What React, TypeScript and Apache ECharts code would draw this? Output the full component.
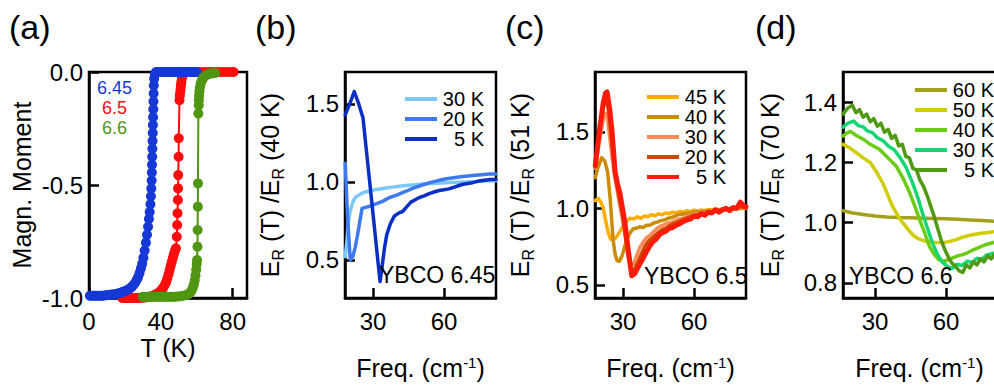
import React, { useEffect, useRef } from "react";
import * as echarts from "echarts";

const FONT = "'Liberation Sans', Arial, Helvetica, sans-serif";

// ---------- Panel (a): magnetization vs T ----------
const a645: number[][] = [
  [0.5, -0.99], [1.5, -0.99], [2.5, -0.99], [3.5, -0.99], [4.5, -0.99], [5.5, -0.99], [6.5, -0.99], [7.5, -0.99],
  [8.5, -0.989], [9.5, -0.988], [10.5, -0.987], [11.5, -0.986], [12.5, -0.985], [13.5, -0.984], [14.5, -0.983],
  [15.5, -0.981], [16.5, -0.979], [17.5, -0.977], [18.5, -0.974], [19.5, -0.971], [20.5, -0.968], [21.5, -0.964],
  [22.5, -0.959], [23.5, -0.953], [24.5, -0.945], [25.5, -0.935], [26.5, -0.922], [27.3, -0.908], [28.1, -0.89],
  [28.9, -0.87], [29.6, -0.848], [30.3, -0.822], [31, -0.79], [31.7, -0.755], [32.3, -0.72], [32.9, -0.685],
  [33.4, -0.65], [33.8, -0.62], [34.2, -0.585], [34.5, -0.55], [34.7, -0.515], [34.9, -0.48], [35.0, -0.445],
  [35.1, -0.41], [35.2, -0.375], [35.3, -0.34], [35.4, -0.305], [35.5, -0.27], [35.6, -0.235], [35.7, -0.2],
  [35.8, -0.165], [35.9, -0.13], [36.0, -0.095], [36.1, -0.06], [36.3, -0.03], [36.7, -0.01], [37.3, 0], [38, 0],
  [39, 0], [40, 0], [41, 0], [42, 0], [43, 0], [44, 0], [45, 0], [46, 0], [47, 0], [48, 0], [49, 0], [50, 0],
  [51, 0], [52, 0], [53, 0], [54, 0], [55, 0], [56, 0], [57, 0], [58, 0], [59, 0], [60, 0],
];
const a65: number[][] = [
  [18.5, -1], [19.5, -1], [20.5, -1], [21.5, -1], [22.5, -1], [23.5, -1], [24.5, -1], [25.5, -1], [26.5, -1],
  [27.5, -1], [28.5, -0.999], [29.5, -0.999], [30.5, -0.998], [31.5, -0.997], [32.5, -0.996], [33.5, -0.995],
  [34.5, -0.993], [35.5, -0.99], [36.5, -0.987], [37.5, -0.983], [38.5, -0.978], [39.5, -0.972], [40.5, -0.964],
  [41.3, -0.955], [42.1, -0.944], [42.9, -0.93], [43.6, -0.914], [44.3, -0.895], [44.9, -0.876], [45.5, -0.857],
  [46.1, -0.84], [46.7, -0.822], [47.3, -0.805], [47.9, -0.79], [48.4, -0.78], [48.9, -0.729], [49.1, -0.677],
  [49.3, -0.625], [49.5, -0.566], [49.6, -0.515], [49.7, -0.456], [49.9, -0.375], [50, -0.293], [50.4, -0.125],
  [50.6, -0.105], [50.8, -0.09], [51, -0.075], [51.2, -0.06], [51.4, -0.045], [51.7, -0.03], [52.1, -0.018],
  [52.7, -0.008], [53.5, -0.002], [55, 0], [57, 0], [59, 0], [61, 0], [63, 0], [65, 0], [67, 0], [69, 0], [71, 0],
  [73, 0], [75, 0], [77, 0], [79, 0], [80.5, 0],
];
const a66: number[][] = [
  [30, -0.995], [31.5, -0.995], [33, -0.995], [34.5, -0.995], [36, -0.995], [37.5, -0.995], [39, -0.995],
  [40.5, -0.995], [42, -0.995], [43.5, -0.995], [45, -0.995], [46.5, -0.995], [48, -0.994], [49.5, -0.993],
  [51, -0.992], [52.5, -0.99], [54, -0.987], [55.3, -0.983], [56.3, -0.977], [57.1, -0.968], [57.8, -0.955],
  [58.4, -0.94], [58.9, -0.922], [59.3, -0.9], [59.7, -0.875], [60, -0.85], [60.2, -0.832], [60.4, -0.773],
  [60.5, -0.699], [60.6, -0.596], [60.7, -0.493], [60.9, -0.184], [61.1, -0.147], [61.2, -0.125], [61.3, -0.105],
  [61.5, -0.085], [61.8, -0.068], [62.2, -0.052], [62.7, -0.04], [63.3, -0.03], [64, -0.022], [65, -0.015],
  [66.2, -0.01], [67.5, -0.007], [69, -0.005], [70.3, -0.004],
];

// ---------- Panel (b): YBCO 6.45 ----------
const b30: number[][] = [
  [18.3, 0.52], [19, 0.62], [19.6, 0.74], [20.5, 0.82], [21.5, 0.87], [22.5, 0.9], [24, 0.915], [25.8, 0.93],
  [28, 0.94], [30, 0.948], [33, 0.955], [36, 0.962], [39, 0.968], [42, 0.974], [45, 0.978], [48, 0.982],
  [51, 0.986], [54, 0.99], [57, 0.992], [60, 0.994], [63, 0.996], [66, 0.998], [69, 1.0], [72, 1.002],
  [75, 1.004], [78, 1.006], [81.9, 1.008],
];
const b20: number[][] = [
  [18.3, 1.12], [19.2, 0.8], [20.4, 0.5], [21.5, 0.52], [22.5, 0.58], [23.5, 0.66], [24.5, 0.75], [25.4, 0.83],
  [26.5, 0.835], [27.9, 0.84], [29.5, 0.85], [31.6, 0.86], [34, 0.875], [37, 0.9], [40, 0.915], [44, 0.94],
  [47, 0.96], [50.8, 0.98], [54, 0.995], [57.9, 1.01], [61, 1.02], [64, 1.027], [67, 1.033], [70, 1.038],
  [73, 1.042], [76, 1.046], [79, 1.05], [81.9, 1.05],
];
const b5: number[][] = [
  [18.3, 1.43], [20.2, 1.5], [22.1, 1.58], [24, 1.5], [25.8, 1.41], [27.5, 1.16], [29.3, 0.9], [31, 0.65],
  [32.3, 0.46], [33, 0.36], [33.8, 0.45], [34.8, 0.57], [35.8, 0.66], [37.3, 0.73], [39, 0.78], [40.8, 0.8],
  [42.5, 0.81], [44.2, 0.84], [46, 0.87], [47.8, 0.885], [49.6, 0.9], [51.6, 0.91], [53.7, 0.925], [55.8, 0.935],
  [57.9, 0.945], [60, 0.95], [62, 0.955], [64, 0.965], [66, 0.975], [68, 0.985], [70, 0.99], [72, 0.995],
  [74.6, 1.005], [77, 1.01], [79.5, 1.015], [81.9, 1.015],
];

// ---------- Panel (c): YBCO 6.5 ----------
const c45: number[][] = [
  [18.3, 1.05], [19.6, 1.065], [20.7, 1.04], [21.7, 1.0], [22.7, 0.92], [23.8, 0.84], [24.8, 0.8], [25.8, 0.795],
  [26.8, 0.805], [28, 0.83], [30, 0.885], [31.5, 0.915], [32.9, 0.935], [34.5, 0.93], [36, 0.945], [37.5, 0.935],
  [39, 0.95], [40.5, 0.945], [42, 0.958], [43.5, 0.952], [45, 0.965], [46.5, 0.958], [48, 0.97], [49.5, 0.965],
  [51, 0.975], [52.5, 0.97], [54, 0.98], [55.5, 0.975], [57, 0.985], [58.5, 0.978], [60, 0.988], [61.5, 0.982],
  [63, 0.99], [64.5, 0.985], [66, 0.993], [67.5, 0.988], [69, 0.996], [70.5, 0.99], [72, 0.998], [73.5, 0.993],
  [75, 1.0], [76.5, 0.995], [78, 1.002], [79.5, 0.998], [81, 1.003], [81.9, 1.0],
];
const c40: number[][] = [
  [18.3, 1.2], [19.5, 1.27], [21, 1.33], [22.3, 1.31], [23.5, 1.24], [24.6, 1.065], [25.8, 0.8], [26.7, 0.7],
  [27.5, 0.66], [28.5, 0.655], [29.6, 0.69], [30.7, 0.75], [31.7, 0.8], [33, 0.84], [34.2, 0.865], [35.5, 0.87],
  [37, 0.88], [38.5, 0.875], [40, 0.89], [41.5, 0.892], [43, 0.905], [44.5, 0.91], [46, 0.92], [47.5, 0.925],
  [49, 0.935], [50.5, 0.94], [52, 0.95], [53.5, 0.96], [55, 0.962], [56.5, 0.968], [58, 0.97], [59.5, 0.975],
  [61, 0.978], [62.5, 0.976], [64, 0.984], [65.5, 0.98], [67, 0.988], [68.5, 0.985], [70, 0.993], [71.5, 0.99],
  [73, 0.996], [74.5, 0.993], [76, 0.998], [77.5, 0.997], [79, 1.002], [80.5, 1.0], [81.9, 1.0],
];
const c30: number[][] = [
  [18.3, 1.26], [19.5, 1.38], [20.7, 1.5], [21.7, 1.58], [22.5, 1.62], [23.4, 1.59], [24.3, 1.48], [25.2, 1.36],
  [26.3, 1.23], [27.5, 1.12], [28.5, 1.03], [29.5, 0.955], [30.5, 0.86], [31.5, 0.76], [32.6, 0.68], [33.6, 0.63],
  [34.5, 0.64], [35.5, 0.68], [37, 0.74], [38.5, 0.78], [40, 0.81], [41.5, 0.825], [43, 0.85], [44.5, 0.87],
  [46, 0.885], [47.5, 0.895], [49, 0.905], [50.5, 0.91], [52, 0.92], [53.5, 0.93], [55, 0.935], [56.5, 0.945],
  [58, 0.95], [59.5, 0.96], [61, 0.965], [62.5, 0.962], [64, 0.975], [65.5, 0.97], [67, 0.985], [68.5, 0.98],
  [70, 0.99], [71.5, 0.985], [73, 0.995], [74.5, 0.99], [76, 1.0], [77.5, 0.995], [79, 1.01], [80.5, 1.005],
  [81.9, 1.0],
];
const c20: number[][] = [
  [18.3, 1.27], [20, 1.48], [21.7, 1.66], [23.1, 1.72], [24.2, 1.6], [25.2, 1.45], [26.5, 1.23], [27.6, 1.14],
  [28.6, 1.06], [29.7, 0.96], [30.7, 0.86], [32, 0.7], [33.5, 0.59], [34.8, 0.6], [36.3, 0.65], [38, 0.71],
  [39.5, 0.76], [41, 0.79], [42.5, 0.81], [44, 0.83], [45.5, 0.85], [47, 0.865], [48.5, 0.875], [50, 0.89],
  [51.5, 0.9], [53, 0.91], [54.5, 0.92], [56, 0.93], [57.5, 0.94], [59, 0.95], [60.5, 0.955], [62, 0.96],
  [63.5, 0.97], [65, 0.965], [66.5, 0.98], [68, 0.975], [69.5, 0.99], [71, 0.985], [72.5, 0.995], [74, 0.99],
  [75.5, 1.0], [77, 1.0], [78.5, 1.015], [80, 1.01], [81.9, 1.005],
];
const c5: number[][] = [
  [18.3, 1.28], [20, 1.5], [21.7, 1.69], [22.6, 1.75], [23.3, 1.76], [24.4, 1.65], [25.4, 1.5], [26.7, 1.235],
  [27.7, 1.16], [28.7, 1.1], [29.8, 1.0], [30.8, 0.91], [32.2, 0.73], [33.7, 0.56], [35, 0.575], [36.5, 0.62],
  [38.3, 0.67], [40, 0.72], [41.3, 0.755], [42.5, 0.78], [44, 0.8], [45.5, 0.83], [46.7, 0.84], [48, 0.85],
  [49.5, 0.87], [51, 0.875], [52.5, 0.89], [54, 0.9], [55.5, 0.915], [57, 0.925], [58.5, 0.93], [60, 0.95],
  [61.5, 0.945], [63, 0.965], [64.5, 0.955], [66, 0.975], [67.5, 0.97], [69, 0.99], [70.5, 0.975], [72, 0.99],
  [73.5, 1.0], [75, 0.985], [76.5, 1.005], [78, 1.0], [79.5, 1.04], [81, 1.015], [81.9, 1.01],
];

// ---------- Panel (d): YBCO 6.6 ----------
const d60: number[][] = [
  [16.5, 1.04], [20, 1.033], [25, 1.027], [30, 1.022], [35, 1.019], [40, 1.017], [45, 1.016], [50, 1.015],
  [55, 1.014], [60, 1.013], [65, 1.011], [70, 1.009], [75, 1.007], [80.5, 1.005],
];
const d50: number[][] = [
  [16.5, 1.26], [19, 1.25], [22.5, 1.23], [25, 1.215], [28, 1.2], [30.5, 1.17], [33.4, 1.13], [35.5, 1.09],
  [37.5, 1.053], [39.5, 1.025], [41.7, 1.0], [43.7, 0.98], [45.8, 0.96], [48, 0.948], [50.5, 0.94], [53, 0.937],
  [55.5, 0.934], [58.3, 0.933], [61, 0.937], [64, 0.943], [67, 0.952], [71, 0.96], [75, 0.965], [80.5, 0.97],
];
const d40: number[][] = [
  [16.5, 1.287], [18, 1.297], [19.6, 1.303], [22, 1.29], [25, 1.277], [28, 1.26], [32, 1.243], [35.5, 1.215],
  [39, 1.187], [42, 1.145], [44.6, 1.1], [46.8, 1.055], [48.8, 1.01], [51, 0.965], [53, 0.92], [55, 0.895],
  [57, 0.877], [59, 0.872], [61, 0.877], [63, 0.884], [65, 0.89], [66.7, 0.893], [69, 0.9], [71.5, 0.91],
  [73.7, 0.917], [76, 0.925], [78, 0.93], [80.5, 0.935],
];
const d30: number[][] = [
  [16.5, 1.317], [18.5, 1.33], [21, 1.337], [23, 1.322], [25, 1.318], [26.7, 1.305], [29, 1.298], [31, 1.282],
  [33.4, 1.272], [36, 1.252], [38, 1.243], [40.4, 1.218], [43, 1.185], [45.8, 1.133], [48, 1.085], [50, 1.033],
  [52, 0.985], [54.2, 0.933], [56.3, 0.895], [58.3, 0.87], [60.5, 0.855], [62.5, 0.848], [64.5, 0.862],
  [66.7, 0.858], [69, 0.872], [71, 0.868], [73, 0.882], [75, 0.878], [77, 0.892], [80.5, 0.9],
];
const d5: number[][] = [
  [16.5, 1.36], [18.5, 1.38], [20.4, 1.39], [22, 1.365], [23.5, 1.375], [25, 1.35], [26.5, 1.36], [28, 1.335],
  [29.5, 1.345], [31, 1.32], [32.5, 1.33], [34, 1.3], [35.5, 1.31], [37, 1.28], [38.5, 1.29], [40, 1.255],
  [41.5, 1.26], [43, 1.22], [44.5, 1.215], [46, 1.18], [47.5, 1.175], [49, 1.14], [50.5, 1.12], [52, 1.09],
  [53.5, 1.055], [55, 1.02], [56.5, 0.98], [58, 0.94], [59.5, 0.91], [61, 0.885], [62.5, 0.865], [64, 0.855],
  [65.5, 0.84], [67, 0.835], [68.5, 0.86], [70, 0.85], [71.5, 0.87], [73, 0.86], [74.5, 0.88], [76, 0.87],
  [77.5, 0.89], [79, 0.88], [80.5, 0.895],
];

// tick values
const aXTicks = [0, 40, 80];
const aYTicks = [-1, -0.5, 0];
const freqTicks = [30, 60];
const bYTicks = [0.5, 1.0, 1.5];
const cYTicks = [0.5, 1.0, 1.5];
const dYTicks = [0.8, 1.0, 1.2, 1.4];

const COL = {
  a645: "#1538d6", a65: "#ff0d0d", a66: "#4f9612",
  b30: "#7cc8fa", b20: "#3d7af0", b5: "#0b2fc4",
  c45: "#ffad00", c40: "#c98c00", c30: "#ff8a55", c20: "#c84a00", c5: "#ff1a0a",
  d60: "#a3a11c", d50: "#cfcc00", d40: "#6ccc14", d30: "#14d672", d5: "#4f9a12",
};

const BLACK = "#000";
const AX_W = 2.5;

function xAxis(i: number, min: number, max: number, ticks: number[], name: string, nameGap: number) {
  return {
    gridIndex: i, type: "value", min, max,
    axisLine: { show: true, onZero: false, lineStyle: { color: BLACK, width: AX_W } },
    axisTick: { show: true, inside: true, length: 10, customValues: ticks, lineStyle: { color: BLACK, width: AX_W } },
    axisLabel: { show: true, customValues: ticks, color: BLACK, fontSize: 24, fontFamily: FONT, margin: 11 },
    splitLine: { show: false },
    name, nameLocation: "middle", nameGap, nameMoveOverlap: false,
    nameTextStyle: {
      color: BLACK, fontSize: 25, fontFamily: FONT, lineHeight: 25,
      rich: { sup: { fontSize: 15, fontFamily: FONT, color: BLACK, verticalAlign: "top" } },
    },
  };
}

function yAxis(i: number, min: number, max: number, ticks: number[], name: string, nameGap: number) {
  return {
    gridIndex: i, type: "value", min, max,
    axisLine: { show: true, onZero: false, lineStyle: { color: BLACK, width: AX_W } },
    axisTick: { show: true, inside: true, length: 10, customValues: ticks, lineStyle: { color: BLACK, width: AX_W } },
    axisLabel: {
      show: true, customValues: ticks, color: BLACK, fontSize: 24, fontFamily: FONT, margin: 6,
      formatter: (v: number) => v.toFixed(1),
    },
    splitLine: { show: false },
    name, nameLocation: "middle", nameGap, nameMoveOverlap: false,
    nameTextStyle: {
      color: BLACK, fontSize: 25, fontFamily: FONT, lineHeight: 33,
      rich: { s: { fontSize: 16, fontFamily: FONT, color: BLACK, verticalAlign: "bottom" } },
    },
  };
}

function lineSeries(name: string, idx: number, data: number[][], color: string, width: number) {
  return {
    type: "line", name, xAxisIndex: idx, yAxisIndex: idx, data,
    symbol: "none", showSymbol: false, silent: true,
    lineStyle: { color, width, join: "round", cap: "round" },
    itemStyle: { color },
  };
}

function markerSeries(name: string, data: number[][], color: string) {
  return {
    type: "line", name, xAxisIndex: 0, yAxisIndex: 0, data,
    symbol: "circle", symbolSize: 10, showSymbol: true, clip: false, silent: true,
    lineStyle: { color, width: 2 },
    itemStyle: { color, borderWidth: 0 },
  };
}

function legend(left: number, top: number, names: string[], textWidth: number) {
  return {
    show: true, orient: "vertical", left, top, padding: 0, itemGap: 0,
    itemWidth: 32, itemHeight: 4, icon: "rect", selectedMode: false,
    data: names,
    formatter: (n: string) => `{r|${n.replace(/ \([a-d]\)$/, "")}}`,
    textStyle: {
      color: BLACK, fontSize: 20, fontFamily: FONT,
      rich: { r: { width: textWidth, align: "right", fontSize: 20, fontFamily: FONT, color: BLACK, lineHeight: 20 } },
    },
  };
}

function txt(text: string, x: number, y: number, size: number, fill: string, align = "left") {
  return {
    type: "text", x, y, z: 100, silent: true,
    style: { text, fontSize: size, fontFamily: FONT, fill, align, verticalAlign: "middle" },
  };
}

export default function App() {
  const ref = useRef<HTMLDivElement>(null);
  useEffect(() => {
    if (!ref.current) return;
    const chart = echarts.init(ref.current, undefined, { renderer: "svg" });
    const gridBase = { show: true, borderColor: BLACK, borderWidth: AX_W, backgroundColor: "transparent", containLabel: false, outerBoundsMode: "none" };
    const FREQ = "Freq. (cm{sup|-1})";
    const option: any = {
      animation: false,
      backgroundColor: "#fff",
      grid: [
        { ...gridBase, left: 89, top: 72, width: 158, height: 226 },
        { ...gridBase, left: 345, top: 72, width: 151, height: 226 },
        { ...gridBase, left: 595, top: 72, width: 151, height: 226 },
        { ...gridBase, left: 843, top: 72, width: 153, height: 226 },
      ],
      xAxis: [
        xAxis(0, 0, 88, aXTicks, "T (K)", 37),
        xAxis(1, 18.2, 81.9, freqTicks, FREQ, 57),
        xAxis(2, 18.2, 81.9, freqTicks, FREQ, 57),
        xAxis(3, 16.5, 81.05, freqTicks, FREQ, 57),
      ],
      yAxis: [
        yAxis(0, -1, 0, aYTicks, "Magn. Moment", 51),
        yAxis(1, 0.255, 1.705, bYTicks, "E{s|R} (T) /E{s|R} (40 K)", 59),
        yAxis(2, 0.415, 1.89, cYTicks, "E{s|R} (T) /E{s|R} (51 K)", 59),
        yAxis(3, 0.75, 1.5, dYTicks, "E{s|R} (T) /E{s|R} (70 K)", 57),
      ],
      legend: [
        legend(405, 89, ["30 K (b)", "20 K (b)", "5 K (b)"], 42),
        legend(647, 87, ["45 K (c)", "40 K (c)", "30 K (c)", "20 K (c)", "5 K (c)"], 42),
        legend(915, 80, ["60 K (d)", "50 K (d)", "40 K (d)", "30 K (d)", "5 K (d)"], 42),
      ],
      series: [
        markerSeries("6.5", a65, COL.a65),
        markerSeries("6.45", a645, COL.a645),
        markerSeries("6.6", a66, COL.a66),
        lineSeries("30 K (b)", 1, b30, COL.b30, 3.5),
        lineSeries("20 K (b)", 1, b20, COL.b20, 3.5),
        lineSeries("5 K (b)", 1, b5, COL.b5, 3.5),
        lineSeries("45 K (c)", 2, c45, COL.c45, 3.5),
        lineSeries("40 K (c)", 2, c40, COL.c40, 3.5),
        lineSeries("30 K (c)", 2, c30, COL.c30, 3.5),
        lineSeries("20 K (c)", 2, c20, COL.c20, 3.5),
        lineSeries("5 K (c)", 2, c5, COL.c5, 5),
        lineSeries("60 K (d)", 3, d60, COL.d60, 3.5),
        lineSeries("50 K (d)", 3, d50, COL.d50, 3.5),
        lineSeries("40 K (d)", 3, d40, COL.d40, 3.5),
        lineSeries("30 K (d)", 3, d30, COL.d30, 3.5),
        lineSeries("5 K (d)", 3, d5, COL.d5, 3.5),
      ],
      graphic: [
        txt("(a)", 9, 27, 34, BLACK),
        txt("(b)", 255, 27, 34, BLACK),
        txt("(c)", 505, 27, 34, BLACK),
        txt("(d)", 755, 27, 34, BLACK),
        txt("6.45", 114.5, 88, 18, COL.a645, "center"),
        txt("6.5", 114.5, 108, 18, COL.a65, "center"),
        txt("6.6", 114.5, 128, 18, COL.a66, "center"),
        txt("YBCO 6.45", 379, 275, 23, BLACK),
        txt("YBCO 6.5", 644, 276, 23, BLACK),
        txt("YBCO 6.6", 849, 276, 23, BLACK),
      ],
    };
    chart.setOption(option);
    return () => chart.dispose();
  }, []);
  return (
    <div
      ref={ref}
      style={{ position: "absolute", left: 0, top: 0, width: 994, height: 387, overflow: "hidden", background: "#fff" }}
    />
  );
}
